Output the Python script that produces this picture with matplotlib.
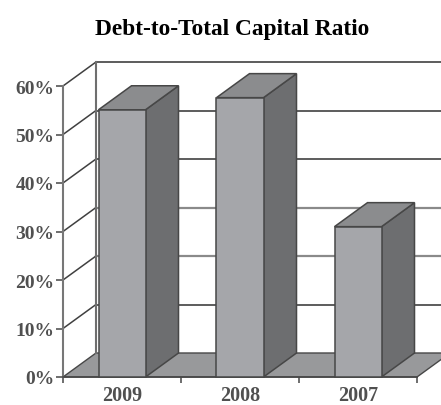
import matplotlib
matplotlib.use("Agg")
import matplotlib.pyplot as plt
from matplotlib.patches import Polygon

years = ["2009", "2008", "2007"]
ratios = [55.1, 57.6, 31.0]
tick_vals = [0, 10, 20, 30, 40, 50, 60]
tick_labels = ["0%", "10%", "20%", "30%", "40%", "50%", "60%"]

# pixel layout of the reference
W, H = 441, 406
x0_px, y0_px = 63, 378
cat_px = 118.0
pct_px = 4.85
depth_x = 33 / cat_px   # 3d depth in data units
depth_y = 24 / pct_px
bar_w = 47 / cat_px

edge = "#474747"
grey_line = "#8a8a8a"

plt.rcParams["font.family"] = ["Liberation Serif", "DejaVu Serif"]

fig = plt.figure(figsize=(W / 100, H / 100), dpi=100)
ax = fig.add_axes([0, 0, 1, 1])
ax.set_xlim(-x0_px / cat_px, (W - x0_px) / cat_px)
ax.set_ylim(-(H - y0_px) / pct_px, y0_px / pct_px)
ax.patch.set_visible(False)

# axis spines
for s in ["top", "right"]:
    ax.spines[s].set_visible(False)
ax.spines["left"].set_position(("data", 0))
ax.spines["left"].set_bounds(0, 60)
ax.spines["left"].set_color("#777777")
ax.spines["left"].set_linewidth(1.5)
ax.spines["bottom"].set_position(("data", 0))
ax.spines["bottom"].set_bounds(0, 3)
ax.spines["bottom"].set_color(edge)
ax.spines["bottom"].set_linewidth(1.2)

ax.set_yticks(tick_vals)
ax.set_yticklabels(tick_labels, fontsize=14, fontweight="bold", color="#505050")
ax.tick_params(axis="y", direction="out", length=5, width=1.1, color=edge, pad=1)

ax.set_xticks([0, 1, 2, 3])
ax.set_xticklabels([])
ax.set_xticks([0.5, 1.5, 2.5], minor=True)
ax.set_xticklabels(years, minor=True, fontsize=14.5, fontweight="bold", color="#505050")
ax.tick_params(axis="x", which="major", direction="out", length=4, width=1.1, color=edge)
ax.tick_params(axis="x", which="minor", length=0, pad=5.5)

# floor
ax.add_patch(Polygon([(0, 0), (3, 0), (3 + depth_x, depth_y), (4, depth_y), (depth_x, depth_y)],
                     closed=True, fc="#98999b", ec=edge, lw=1, zorder=1))

# walls and gridlines
for v in tick_vals:
    col = grey_line if v in (20, 30) else "#303030"
    lw = 1.6 if v in (20, 30) else 1.1
    if v > 0:
        ax.plot([depth_x, 4], [v + depth_y, v + depth_y], color=col, lw=lw, zorder=1.5)
        ax.plot([0, depth_x], [v, v + depth_y], color="#404040", lw=1.1, zorder=1.5)
ax.plot([depth_x, depth_x], [depth_y, 60 + depth_y], color="#6f6f6f", lw=1.5, zorder=1.6)

# bars, front face via bar(), depth faces from the same values
xs = [0.5, 1.5, 2.5]
ax.bar(xs, ratios, width=bar_w, color="#a5a6aa", edgecolor=edge, linewidth=1.1, zorder=3)
for x, v in zip(xs, ratios):
    l, r = x - bar_w / 2, x + bar_w / 2
    ax.add_patch(Polygon([(r, 0), (r + depth_x, depth_y), (r + depth_x, v + depth_y), (r, v)],
                         closed=True, fc="#6d6e70", ec=edge, lw=1.1, zorder=2.5))
    ax.add_patch(Polygon([(l, v), (r, v), (r + depth_x, v + depth_y), (l + depth_x, v + depth_y)],
                         closed=True, fc="#8b8c8e", ec=edge, lw=1.1, zorder=2.5))

fig.text(232 / W, 1 - 29 / H, "Debt-to-Total Capital Ratio", ha="center", va="center",
         fontsize=16.8, fontweight="bold", color="black")

fig.savefig("out.png", dpi=100)
